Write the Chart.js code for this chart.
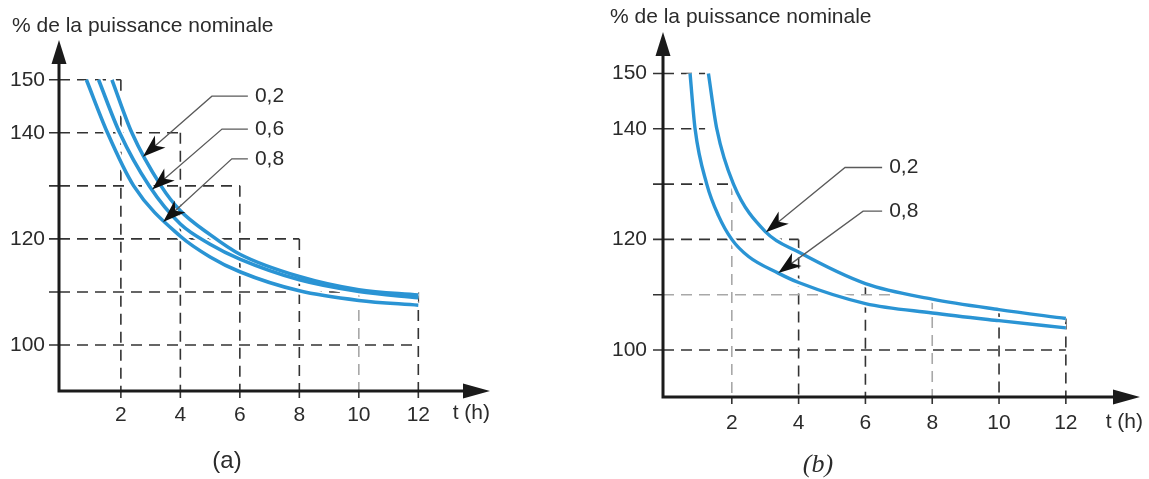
<!DOCTYPE html>
<html lang="fr">
<head>
<meta charset="utf-8">
<title>Surcharge admissible</title>
<script src="https://cdn.jsdelivr.net/npm/chart.js@4.4.1/dist/chart.umd.min.js"></script>
<style>
  html, body { margin: 0; padding: 0; background: #fff; }
  #wrap { position: relative; width: 1149px; height: 479px; overflow: hidden; }
  canvas { position: absolute; top: 0; }
  #graphA { left: 0; }
  #graphB { left: 560px; }
</style>
</head>
<body>
<div id="wrap">
  <canvas id="graphA" width="540" height="479"></canvas>
  <canvas id="graphB" width="589" height="479"></canvas>
</div>
<script>
// graduations communes
const heures = [2, 4, 6, 8, 10, 12];
const niveaux = [100, 110, 120, 130, 140, 150];
const niveauxLibelles = [100, 120, 140, 150];

// (a) courbes pour facteur de charge initial 0,2 / 0,6 / 0,8
const tA02 = [1.70, 2.37, 3.35, 4, 5, 6, 8, 10, 12];
const pA02 = [150, 140, 130, 125.3, 120.8, 117.1, 112.9, 110.4, 109.4];
const tA06 = [1.25, 1.96, 2.95, 4, 5, 6, 8, 10, 12];
const pA06 = [150, 140, 130, 122.8, 119.0, 116.2, 112.3, 110.1, 108.9];
const tA08 = [0.84, 1.55, 2.43, 4, 5, 6, 8, 10, 12];
const pA08 = [150, 140, 130, 120.5, 116.6, 113.8, 110.2, 108.4, 107.5];

// (b) courbes 0,2 / 0,8
const tB02 = [1.30, 1.55, 2.05, 3.02, 4, 6, 8, 10, 12];
const pB02 = [150, 140, 130, 121.3, 117.7, 112.0, 109.2, 107.3, 105.7];
const tB08 = [0.75, 0.9, 1.25, 1.6, 2.0, 2.5, 3.39, 4, 6, 8, 10, 12];
const pB08 = [150, 140, 130, 124.3, 120, 116.9, 113.9, 112.2, 108.4, 106.7, 105.3, 104.0];

// lignes de rappel pointillées : niveaux horizontaux et jusqu'où ils vont
const rappelNivA = [150, 140, 130, 120, 110, 100];
const rappelFinA = [2, 4, 6, 8, 12, 12];
const rappelColA = [2, 4, 6, 8, 10, 12];
const rappelHautA = [150, 140, 130, 120, 110, 110];
const rappelGrisHA = [false, false, false, false, false, false];
const rappelGrisVA = [false, false, false, false, true, false];

const rappelNivB = [150, 140, 130, 120, 110, 100];
const rappelFinB = [1.2, 1.2, 2, 4, 6.8, 12];
const rappelColB = [2, 4, 6, 8, 10, 12];
const rappelHautB = [130, 120, 112.0, 109.2, 107.3, 105.7];
const rappelGrisHB = [false, false, false, false, true, false];
const rappelGrisVB = [true, false, false, true, false, false];

const BLEU = '#2a94d4';
const NOIR = '#1b1b1b';
const TEXTE = '#2b2b2b';
const POLICE = '21px "Liberation Sans", Arial, sans-serif';

Chart.defaults.font.family = '"Liberation Sans", Arial, sans-serif';

function points(t, p) {
  return t.map((v, i) => ({ x: v, y: p[i] }));
}

function courbe(t, p, largeur) {
  return [
    { data: points(t, p), borderColor: '#ffffff', borderWidth: largeur + 4, order: 2,
      pointRadius: 0, tension: 0.4, cubicInterpolationMode: 'monotone', fill: false },
    { data: points(t, p), borderColor: BLEU, borderWidth: largeur, order: 1,
      pointRadius: 0, tension: 0.4, cubicInterpolationMode: 'monotone', fill: false }
  ];
}

function rappels(niv, fins, cols, hauts, grisH, grisV, xMin, yMin) {
  const ds = [];
  niv.forEach((v, i) => {
    ds.push({ data: [{ x: xMin, y: v }, { x: fins[i], y: v }],
      borderColor: grisH[i] ? '#a8a8a8' : '#333', borderWidth: 1.6,
      borderDash: [11, 7], pointRadius: 0, order: 3 });
  });
  cols.forEach((c, i) => {
    ds.push({ data: [{ x: c, y: hauts[i] }, { x: c, y: yMin }],
      borderColor: grisV[i] ? '#a8a8a8' : '#333', borderWidth: 1.6,
      borderDash: [11, 7], pointRadius: 0, order: 3 });
  });
  return ds;
}

// axes fléchés, petites graduations, renvois et textes
const traceur = {
  id: 'traceur',
  afterDatasetsDraw(chart, args, o) {
    const { ctx, chartArea: a } = chart;
    const x = chart.scales.x, y = chart.scales.y;
    ctx.save();

    ctx.strokeStyle = '#333';
    ctx.lineWidth = 1.6;
    ctx.beginPath();
    niveaux.forEach(v => {
      const py = y.getPixelForValue(v);
      ctx.moveTo(a.left - 10, py);
      ctx.lineTo(a.left, py);
    });
    heures.forEach(v => {
      const px = x.getPixelForValue(v);
      ctx.moveTo(px, a.bottom);
      ctx.lineTo(px, a.bottom + 7);
    });
    ctx.stroke();

    ctx.strokeStyle = NOIR;
    ctx.fillStyle = NOIR;
    ctx.lineWidth = 3;
    ctx.beginPath();
    ctx.moveTo(a.left, a.bottom + 1.5);
    ctx.lineTo(a.left, a.top + 18);
    ctx.moveTo(a.left - 1.5, a.bottom);
    ctx.lineTo(a.right - 18, a.bottom);
    ctx.stroke();
    ctx.beginPath();
    ctx.moveTo(a.left, a.top);
    ctx.lineTo(a.left - 7.5, a.top + 24);
    ctx.lineTo(a.left + 7.5, a.top + 24);
    ctx.closePath();
    ctx.moveTo(a.right, a.bottom);
    ctx.lineTo(a.right - 27, a.bottom - 7.5);
    ctx.lineTo(a.right - 27, a.bottom + 7.5);
    ctx.closePath();
    ctx.fill();

    // renvois vers les courbes
    o.renvois.forEach(r => {
      const tx = x.getPixelForValue(r.pointe[0]), ty = y.getPixelForValue(r.pointe[1]);
      const cx = x.getPixelForValue(r.coude[0]), cy = y.getPixelForValue(r.coude[1]);
      const fx = x.getPixelForValue(r.fin);
      const len = Math.hypot(tx - cx, ty - cy);
      const dx = (tx - cx) / len, dy = (ty - cy) / len;
      const L = 23, w = 8;
      const bx = tx - dx * L, by = ty - dy * L;
      ctx.strokeStyle = '#5a5a5a';
      ctx.lineWidth = 1.3;
      ctx.beginPath();
      ctx.moveTo(fx, cy);
      ctx.lineTo(cx, cy);
      ctx.lineTo(tx - dx * L * 0.7, ty - dy * L * 0.7);
      ctx.stroke();
      ctx.fillStyle = '#111';
      ctx.beginPath();
      ctx.moveTo(tx, ty);
      ctx.lineTo(bx - dy * w, by + dx * w);
      ctx.lineTo(tx - dx * L * 0.72, ty - dy * L * 0.72);
      ctx.lineTo(bx + dy * w, by - dx * w);
      ctx.closePath();
      ctx.fill();
      ctx.fillStyle = TEXTE;
      ctx.font = POLICE;
      ctx.textAlign = 'left';
      ctx.textBaseline = 'middle';
      ctx.fillText(r.texte, fx + 7, cy);
    });

    ctx.fillStyle = TEXTE;
    ctx.font = POLICE;
    ctx.textAlign = 'left';
    ctx.textBaseline = 'middle';
    ctx.fillText('% de la puissance nominale', a.left + o.titreDx, o.titreY);
    ctx.textAlign = 'right';
    ctx.fillText('t (h)', a.right + o.uniteDx, o.uniteY);

    ctx.font = o.legendePolice;
    ctx.textAlign = 'center';
    ctx.fillText(o.legende, o.legendeX, o.legendeY);
    ctx.restore();
  }
};

function graphe(id, cfg) {
  const W = cfg.largeur, H = 479;
  const a = cfg.zone;
  return new Chart(document.getElementById(id), {
    type: 'line',
    data: { datasets: cfg.datasets },
    options: {
      responsive: false,
      animation: false,
      layout: { padding: { left: 0, top: a.top, right: W - a.right, bottom: H - a.bottom - 40 } },
      plugins: { legend: { display: false }, tooltip: { enabled: false }, traceur: cfg.traceur },
      scales: {
        x: {
          type: 'linear', min: cfg.xMin, max: cfg.xMax,
          afterBuildTicks: s => { s.ticks = heures.map(v => ({ value: v })); },
          afterFit: s => { s.height = 40; },
          grid: { display: false, drawTicks: false },
          border: { display: false },
          ticks: { color: TEXTE, font: { size: 21 }, padding: cfg.padX, maxRotation: 0, autoSkip: false,
            callback: v => String(v) }
        },
        y: {
          type: 'linear', min: cfg.yMin, max: cfg.yMax,
          afterBuildTicks: s => { s.ticks = niveauxLibelles.map(v => ({ value: v })); },
          afterFit: s => { s.width = a.left; },
          grid: { display: false, drawTicks: false },
          border: { display: false },
          ticks: { color: TEXTE, font: { size: 21 }, padding: cfg.padY, autoSkip: false,
            callback: v => String(v) }
        }
      }
    },
    plugins: [traceur]
  });
}

const xMinA = -0.08, yMinA = 91.32;
graphe('graphA', {
  largeur: 540,
  zone: { left: 59, right: 490, top: 40, bottom: 391 },
  xMin: xMinA, xMax: 14.41, yMin: yMinA, yMax: 157.5,
  padX: 12, padY: 14,
  datasets: [
    ...rappels(rappelNivA, rappelFinA, rappelColA, rappelHautA, rappelGrisHA, rappelGrisVA, xMinA, yMinA),
    ...courbe(tA02, pA02, 3.6),
    ...courbe(tA06, pA06, 3.6),
    ...courbe(tA08, pA08, 3.6)
  ],
  traceur: {
    titreDx: -47, titreY: 26, uniteDx: 0, uniteY: 413,
    legende: '(a)', legendeX: 227, legendeY: 461, legendePolice: '24px "Liberation Sans", Arial, sans-serif',
    renvois: [
      { texte: '0,2', pointe: [2.74, 135.5], coude: [5.06, 146.9], fin: 6.27 },
      { texte: '0,6', pointe: [3.05, 129.3], coude: [5.40, 140.7], fin: 6.27 },
      { texte: '0,8', pointe: [3.42, 123.2], coude: [5.73, 135.1], fin: 6.27 }
    ]
  }
});

const xMinB = -0.06, yMinB = 91.5;
graphe('graphB', {
  largeur: 589,
  zone: { left: 103, right: 580, top: 32, bottom: 397 },
  xMin: xMinB, xMax: 14.22, yMin: yMinB, yMax: 157.5,
  padX: 14, padY: 16,
  datasets: [
    ...rappels(rappelNivB, rappelFinB, rappelColB, rappelHautB, rappelGrisHB, rappelGrisVB, xMinB, yMinB),
    ...courbe(tB02, pB02, 3.4),
    ...courbe(tB08, pB08, 3.4)
  ],
  traceur: {
    titreDx: -53, titreY: 17, uniteDx: 3, uniteY: 422,
    legende: '(b)', legendeX: 258, legendeY: 465, legendePolice: 'italic 26px "Liberation Serif", "Times New Roman", serif',
    renvois: [
      { texte: '0,2', pointe: [3.02, 121.3], coude: [5.39, 133.0], fin: 6.50 },
      { texte: '0,8', pointe: [3.39, 113.9], coude: [5.93, 125.1], fin: 6.50 }
    ]
  }
});
</script>
</body>
</html>
